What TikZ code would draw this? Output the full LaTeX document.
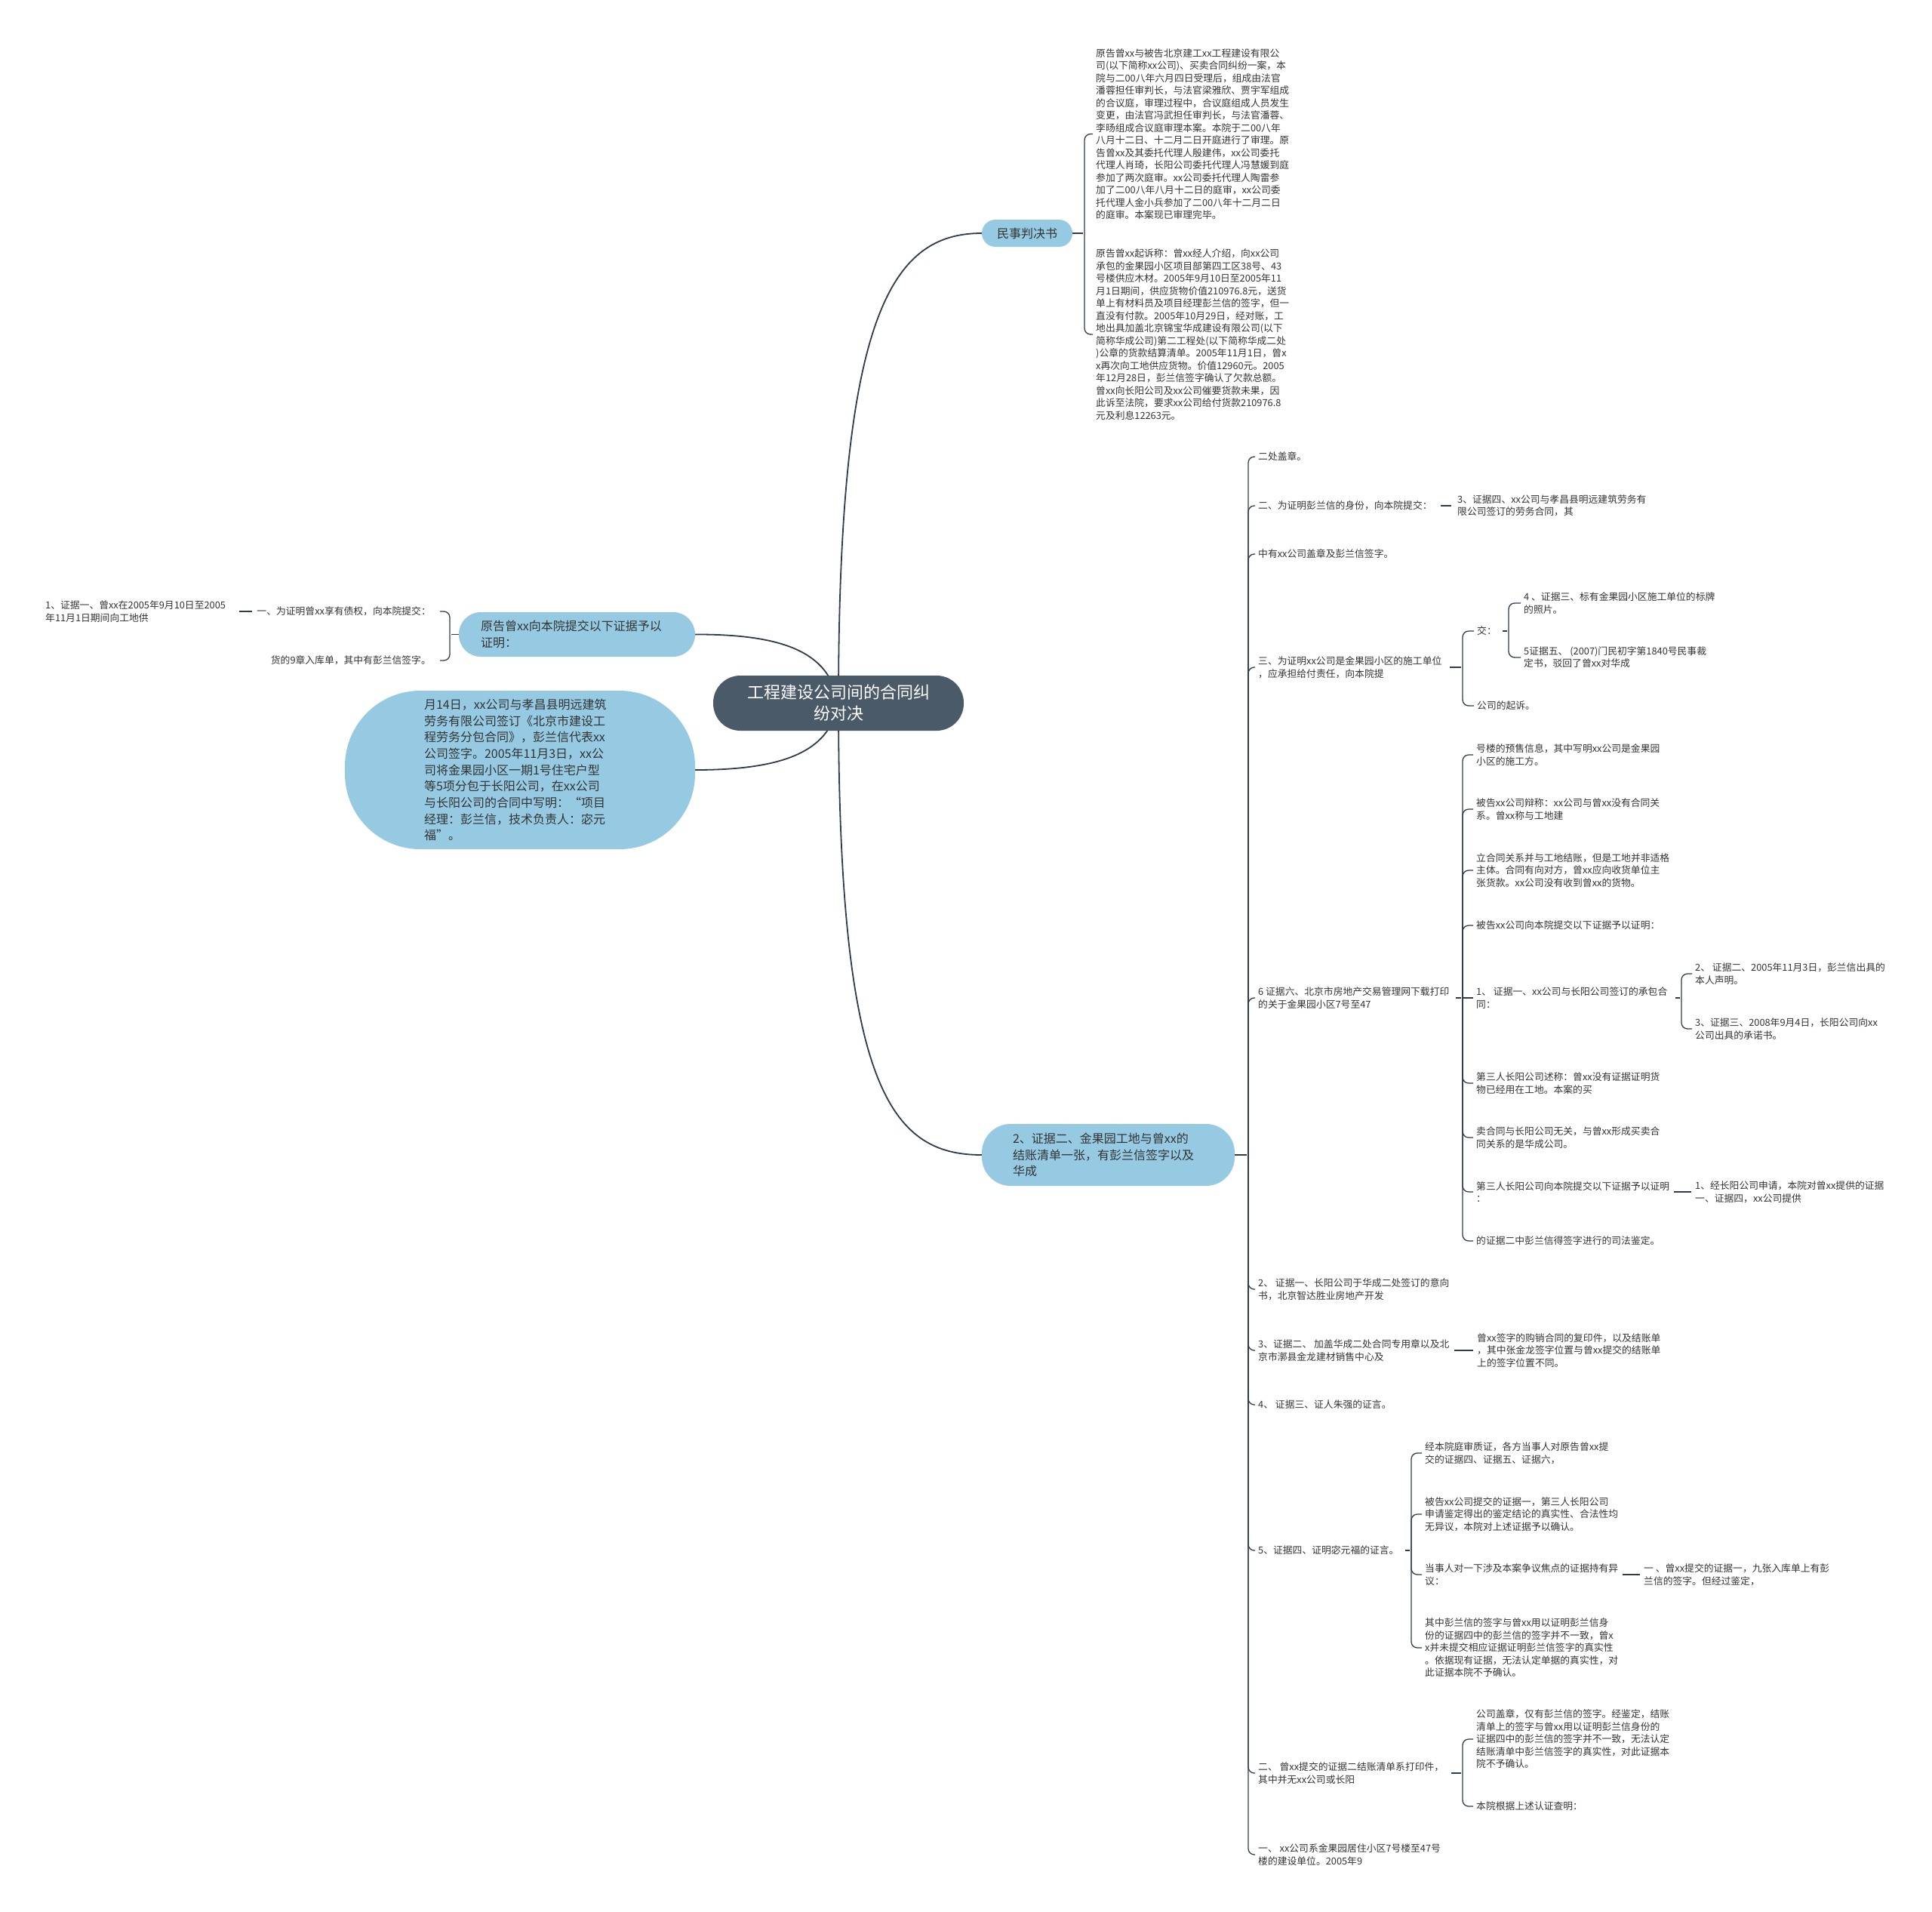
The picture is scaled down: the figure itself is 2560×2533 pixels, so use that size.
\documentclass[tikz,border=0pt]{standalone}
\usepackage{fontspec}
\setmainfont{Noto Sans CJK SC}
\usetikzlibrary{backgrounds}
\definecolor{linec}{HTML}{2E3C4A}
\definecolor{ctrfill}{HTML}{4B5A68}
\definecolor{bfill}{HTML}{96CAE2}
\definecolor{txt}{HTML}{333333}
\tikzset{
 small/.style={font=\fontsize{12.8}{16.5}\selectfont, inner sep=2pt, text=txt},
 sl/.style={small, align=left, anchor=west},
 sr/.style={small, align=right, anchor=east},
 conn/.style={draw=linec, line width=1.3pt, rounded corners=8pt, shorten >=2pt},
 single/.style={draw=linec, line width=1.6pt},
 mainc/.style={draw=linec, line width=1.8pt},
 ctrbox/.style={fill=ctrfill, text=white, rounded corners=36pt, font=\fontsize{22}{28}\selectfont, align=center, minimum width=332pt, minimum height=73pt, inner sep=0pt},
 bbox/.style={fill=bfill, text=txt, font=\fontsize{16}{21.7}\selectfont, inner ysep=0pt},
}
\begin{document}
\begin{tikzpicture}[x=1pt,y=-1pt]
\useasboundingbox (0,0) rectangle (2560,2533);
% central and branch nodes
\node[ctrbox] (ctr) at (1111,931.5) {工程建设公司间的合同纠\\纷对决};
\node[bbox, rounded corners=18pt, minimum width=120pt, minimum height=36pt, inner xsep=0pt] (b1) at (1361,309) {民事判决书};
\node[bbox, rounded corners=29pt, text width=255pt, inner xsep=29pt, minimum height=59pt, align=left] (b2) at (764.5,840.5) {原告曾xx向本院提交以下证据予以\\证明：};
\node[bbox, rounded corners=100pt, text width=254pt, inner xsep=105pt, minimum height=210pt, align=left] (b3) at (689,1020) {月14日，xx公司与孝昌县明远建筑\\劳务有限公司签订《北京市建设工\\程劳务分包合同》，彭兰信代表xx\\公司签字。2005年11月3日，xx公\\司将金果园小区一期1号住宅户型\\等5项分包于长阳公司，在xx公司\\与长阳公司的合同中写明：“项目\\经理：彭兰信，技术负责人：宓元\\福”。};
\node[bbox, rounded corners=38pt, text width=253pt, inner xsep=41pt, minimum height=82pt, align=left] (b4) at (1468.5,1530) {2、证据二、金果园工地与曾xx的\\结账清单一张，有彭兰信签字以及\\华成};
% 民事判决书 children
\node[sl] (t1) at (1450,177.5) {原告曾xx与被告北京建工xx工程建设有限公\\司(以下简称xx公司)、买卖合同纠纷一案，本\\院与二00八年六月四日受理后，组成由法官\\潘蓉担任审判长，与法官梁雅欣、贾宇军组成\\的合议庭，审理过程中，合议庭组成人员发生\\变更，由法官冯武担任审判长，与法官潘蓉、\\李旸组成合议庭审理本案。本院于二00八年\\八月十二日、十二月二日开庭进行了审理。原\\告曾xx及其委托代理人殷建伟，xx公司委托\\代理人肖琦，长阳公司委托代理人冯慧媛到庭\\参加了两次庭审。xx公司委托代理人陶雷参\\加了二00八年八月十二日的庭审，xx公司委\\托代理人金小兵参加了二00八年十二月二日\\的庭审。本案现已审理完毕。};
\node[sl] (t2) at (1450,443) {原告曾xx起诉称：曾xx经人介绍，向xx公司\\承包的金果园小区项目部第四工区38号、43\\号楼供应木材。2005年9月10日至2005年11\\月1日期间，供应货物价值210976.8元，送货\\单上有材料员及项目经理彭兰信的签字，但一\\直没有付款。2005年10月29日，经对账，工\\地出具加盖北京锦宝华成建设有限公司(以下\\简称华成公司)第二工程处(以下简称华成二处\\)公章的货款结算清单。2005年11月1日，曾x\\x再次向工地供应货物。价值12960元。2005\\年12月28日，彭兰信签字确认了欠款总额。\\曾xx向长阳公司及xx公司催要货款未果，因\\此诉至法院，要求xx公司给付货款210976.8\\元及利息12263元。};
% left children
\node[sr] (l1) at (573,810) {一、为证明曾xx享有债权，向本院提交：};
\node[sl] (l1a) at (58,810) {1、证据一、曾xx在2005年9月10日至2005\\年11月1日期间向工地供};
\node[sr] (l2) at (573,875) {货的9章入库单，其中有彭兰信签字。};
% right trunk children
\node[sl] (c1) at (1665,605) {二处盖章。};
\node[sl] (c2) at (1665,670) {二、为证明彭兰信的身份，向本院提交：};
\node[sl] (c2a) at (1929,670) {3、证据四、xx公司与孝昌县明远建筑劳务有\\限公司签订的劳务合同，其};
\node[sl] (c3) at (1665,734) {中有xx公司盖章及彭兰信签字。};
\node[sl] (c4) at (1665,884) {三、为证明xx公司是金果园小区的施工单位\\，应承担给付责任，向本院提};
\node[sl] (c4a) at (1955,836) {交：};
\node[sl] (c4a1) at (2017,799) {4 、证据三、标有金果园小区施工单位的标牌\\的照片。};
\node[sl] (c4a2) at (2017,871) {5证据五、 (2007)门民初字第1840号民事裁\\定书，驳回了曾xx对华成};
\node[sl] (c4b) at (1955,935) {公司的起诉。};
\node[sl] (c5) at (1665,1322) {6 证据六、北京市房地产交易管理网下载打印\\的关于金果园小区7号至47};
\node[sl] (c5a) at (1954,1000) {号楼的预售信息，其中写明xx公司是金果园\\小区的施工方。};
\node[sl] (c5b) at (1954,1072) {被告xx公司辩称：xx公司与曾xx没有合同关\\系。曾xx称与工地建};
\node[sl] (c5c) at (1954,1153) {立合同关系并与工地结账，但是工地并非适格\\主体。合同有向对方，曾xx应向收货单位主\\张货款。xx公司没有收到曾xx的货物。};
\node[sl] (c5d) at (1954,1226) {被告xx公司向本院提交以下证据予以证明：};
\node[sl] (c5e) at (1954,1322) {1、 证据一、xx公司与长阳公司签订的承包合\\同：};
\node[sl] (c5e1) at (2244,1290) {2、 证据二、2005年11月3日，彭兰信出具的\\本人声明。};
\node[sl] (c5e2) at (2244,1363) {3、证据三、2008年9月4日，长阳公司向xx\\公司出具的承诺书。};
\node[sl] (c5f) at (1954,1435) {第三人长阳公司述称：曾xx没有证据证明货\\物已经用在工地。本案的买};
\node[sl] (c5g) at (1954,1507) {卖合同与长阳公司无关，与曾xx形成买卖合\\同关系的是华成公司。};
\node[sl] (c5h) at (1954,1579) {第三人长阳公司向本院提交以下证据予以证明\\：};
\node[sl] (c5h1) at (2244,1579) {1、经长阳公司申请，本院对曾xx提供的证据\\一、证据四，xx公司提供};
\node[sl] (c5i) at (1954,1644) {的证据二中彭兰信得签字进行的司法鉴定。};
\node[sl] (c6) at (1665,1708) {2、 证据一、长阳公司于华成二处签订的意向\\书，北京智达胜业房地产开发};
\node[sl] (c7) at (1665,1789) {3、证据二、 加盖华成二处合同专用章以及北\\京市漷县金龙建材销售中心及};
\node[sl] (c7a) at (1955,1789) {曾xx签字的购销合同的复印件，以及结账单\\，其中张金龙签字位置与曾xx提交的结账单\\上的签字位置不同。};
\node[sl] (c8) at (1665,1861) {4、 证据三、证人朱强的证言。};
\node[sl] (c9) at (1665,2054) {5、证据四、证明宓元福的证言。};
\node[sl] (c9a) at (1886,1925) {经本院庭审质证，各方当事人对原告曾xx提\\交的证据四、证据五、证据六，};
\node[sl] (c9b) at (1886,2006) {被告xx公司提交的证据一，第三人长阳公司\\申请鉴定得出的鉴定结论的真实性、合法性均\\无异议，本院对上述证据予以确认。};
\node[sl] (c9c) at (1886,2086) {当事人对一下涉及本案争议焦点的证据持有异\\议：};
\node[sl] (c9c1) at (2176,2086) {一 、曾xx提交的证据一，九张入库单上有彭\\兰信的签字。但经过鉴定，};
\node[sl] (c9d) at (1886,2183) {其中彭兰信的签字与曾xx用以证明彭兰信身\\份的证据四中的彭兰信的签字并不一致，曾x\\x并未提交相应证据证明彭兰信签字的真实性\\。依据现有证据，无法认定单据的真实性，对\\此证据本院不予确认。};
\node[sl] (c10) at (1665,2349) {二、 曾xx提交的证据二结账清单系打印件，\\其中并无xx公司或长阳};
\node[sl] (c10a) at (1954,2304) {公司盖章，仅有彭兰信的签字。经鉴定，结账\\清单上的签字与曾xx用以证明彭兰信身份的\\证据四中的彭兰信的签字并不一致，无法认定\\结账清单中彭兰信签字的真实性，对此证据本\\院不予确认。};
\node[sl] (c10b) at (1954,2393) {本院根据上述认证查明：};
\node[sl] (c11) at (1665,2457) {一、 xx公司系金果园居住小区7号楼至47号\\楼的建设单位。2005年9};
% brace x positions
\coordinate (x0) at (1437,0);
\coordinate (xL) at (596,0);
\coordinate (xT) at (1654,0);
\coordinate (x4) at (1938,0);
\coordinate (x4a) at (1999,0);
\coordinate (x5) at (1938,0);
\coordinate (x5e) at (2228,0);
\coordinate (x9) at (1870,0);
\coordinate (x10) at (1938,0);
\begin{scope}[on background layer]
\fill[white] (0,0) rectangle (2560,2533);
% main curves
\draw[mainc] (ctr.center) .. controls (1111,420) and (1180,309) .. (b1.west);
\draw[mainc] (ctr.center) .. controls (1111,1440) and (1180,1530) .. (b4.west);
\draw[mainc] (ctr.center) .. controls (1100,870) and (1050,840) .. (b2.east);
\draw[mainc] (ctr.center) .. controls (1100,990) and (1050,1020) .. (b3.east);
% 民事判决书
\draw[conn] (b1.east) -- (b1.east -| x0);
\foreach \c in {t1,t2} \draw[conn] (b1.east -| x0) |- (\c.west);
% left
\draw[conn] (b2.west) -- (b2.west -| xL);
\foreach \c in {l1,l2} \draw[conn, shorten >=10pt] (b2.west -| xL) |- (\c.east);
\draw[single, shorten <=4pt, shorten >=16pt] (l1.west) -- (l1a.east);
% trunk
\draw[conn] (b4.east) -- (b4.east -| xT);
\foreach \c in {c1,c2,c3,c4,c5,c6,c7,c8,c9,c10,c11} \draw[conn] (b4.east -| xT) |- (\c.west);
\draw[single, shorten <=9pt, shorten >=6pt] (c2.east) -- (c2a.west);
% c4
\draw[conn] ([xshift=8pt]c4.east) -- (c4.east -| x4);
\foreach \c in {c4a,c4b} \draw[conn] (c4.east -| x4) |- (\c.west);
\draw[conn] ([xshift=6pt]c4a.east) -- (c4a.east -| x4a);
\foreach \c in {c4a1,c4a2} \draw[conn] (c4a.east -| x4a) |- (\c.west);
% c5
\draw[conn] ([xshift=6pt]c5.east) -- (c5.east -| x5);
\foreach \c in {c5a,c5b,c5c,c5d,c5f,c5g,c5h,c5i} \draw[conn] (c5.east -| x5) |- (\c.west);
\draw[conn] (c5.east -| x5) -- (c5e.west);
\draw[conn] ([xshift=8pt]c5e.east) -- (c5e.east -| x5e);
\foreach \c in {c5e1,c5e2} \draw[conn] (c5e.east -| x5e) |- (\c.west);
\draw[single, shorten <=4pt, shorten >=3pt] (c5h.east) -- (c5h1.west);
% c7, c9, c10
\draw[single, shorten <=4pt, shorten >=3pt] (c7.east) -- (c7a.west);
\draw[conn] ([xshift=6pt]c9.east) -- (c9.east -| x9);
\foreach \c in {c9a,c9b,c9c,c9d} \draw[conn] (c9.east -| x9) |- (\c.west);
\draw[single, shorten <=4pt, shorten >=3pt] (c9c.east) -- (c9c1.west);
\draw[conn] ([xshift=8pt]c10.east) -- (c10.east -| x10);
\foreach \c in {c10a,c10b} \draw[conn] (c10.east -| x10) |- (\c.west);
\end{scope}
\end{tikzpicture}
\end{document}
